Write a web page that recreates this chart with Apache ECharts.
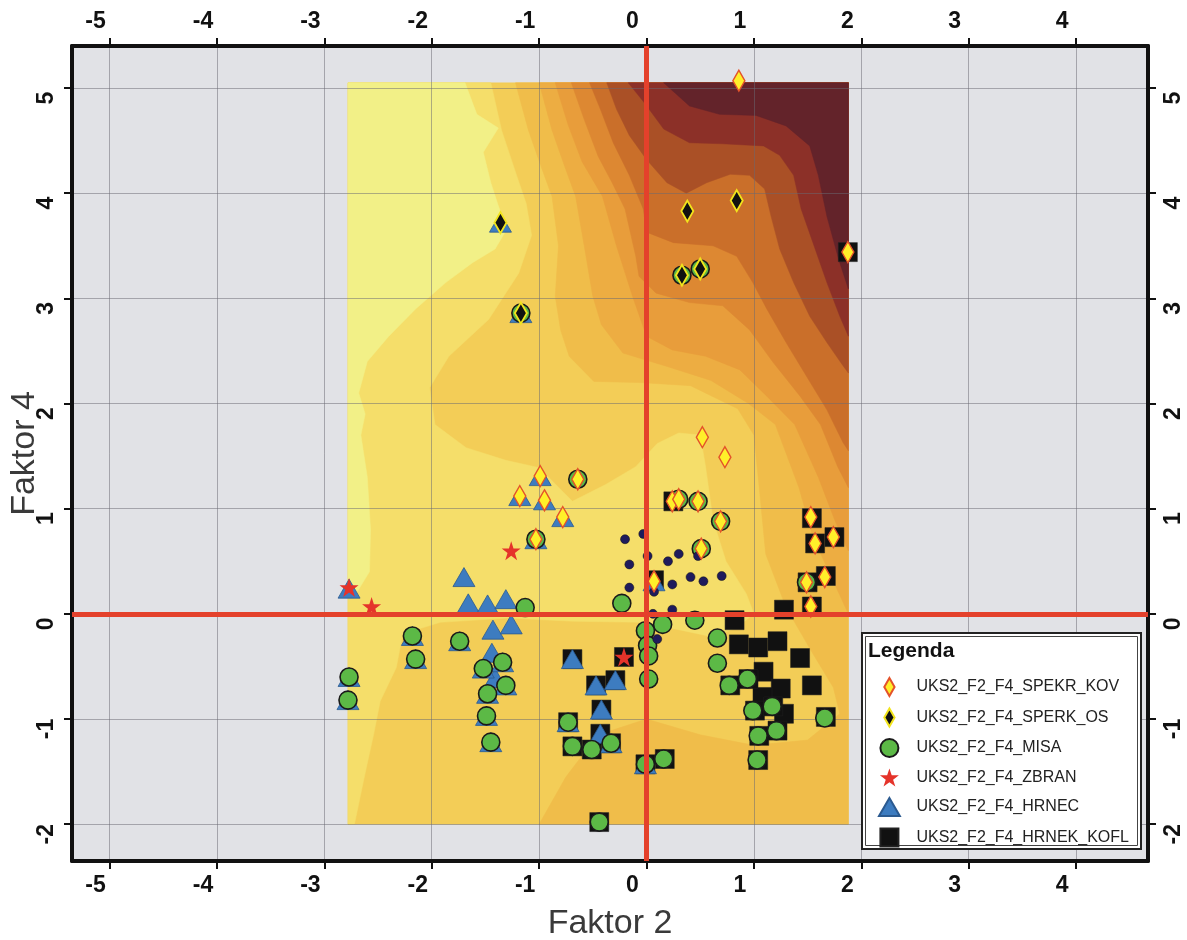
<!DOCTYPE html>
<html><head><meta charset="utf-8">
<script src="https://cdn.jsdelivr.net/npm/echarts@6/dist/echarts.min.js"></script>
<style>html,body{margin:0;padding:0;background:#fff;}#c{width:1187px;height:940px;}</style>
</head><body><div id="c"></div>
<script>
// ---- axis ticks ----
const xTickValues = [-5,-4,-3,-2,-1,0,1,2,3,4];
const yTickValues = [-2,-1,0,1,2,3,4,5];
const xRange = [-5.35, 4.67];
const yRange = [-2.35, 5.4];
const refLines = {x: 0, y: 0};

// ---- sample points (Faktor 2, Faktor 4) ----
const spekrKov = [[0.86,5.07],[1.875,3.44],[0.52,1.68],[0.73,1.49],[-0.99,1.31],[-1.18,1.12],[-0.95,1.08],[-0.78,0.92],[-0.64,1.28],[-1.03,0.71],[0.24,1.07],[0.30,1.09],[0.48,1.07],[0.69,0.88],[0.51,0.62],[0.07,0.31],[1.53,0.92],[1.57,0.67],[1.74,0.73],[1.66,0.35],[1.49,0.30],[1.53,0.07]];
const sperkOs = [[-1.36,3.72],[-1.17,2.86],[0.38,3.83],[0.84,3.93],[0.33,3.22],[0.50,3.28]];
const misa = [[-1.13,0.06],[-0.23,0.10],[-0.01,-0.16],[0.15,-0.10],[0.45,-0.06],[0.66,-0.23],[0.66,-0.47],[0.01,-0.30],[0.02,-0.40],[0.02,-0.62],[-2.18,-0.21],[-2.15,-0.43],[-1.74,-0.26],[-2.77,-0.60],[-2.78,-0.82],[-1.52,-0.52],[-1.34,-0.46],[-1.31,-0.68],[-1.48,-0.76],[-1.49,-0.97],[-1.45,-1.22],[-0.73,-1.03],[-0.69,-1.26],[-0.51,-1.29],[-0.33,-1.23],[-0.01,-1.43],[0.16,-1.38],[-0.44,-1.98],[0.77,-0.68],[0.94,-0.62],[0.99,-0.92],[1.17,-0.88],[1.04,-1.16],[1.21,-1.11],[1.03,-1.39],[1.66,-0.99],[-0.64,1.28],[-1.03,0.71],[0.30,1.09],[0.48,1.07],[0.69,0.88],[0.51,0.62],[1.49,0.30],[-1.17,2.86],[0.33,3.22],[0.50,3.28]];
const zbran = [[-1.26,0.60],[-2.77,0.25],[-2.56,0.07],[-0.21,-0.41]];
const hrnec = [[-1.70,0.35],[-1.66,0.10],[-1.48,0.09],[-1.31,0.14],[-1.43,-0.15],[-1.26,-0.10],[-1.44,-0.37],[-1.41,-0.61],[-2.77,0.24],[-2.18,-0.21],[-2.15,-0.43],[-1.74,-0.26],[-2.77,-0.60],[-2.78,-0.82],[-1.52,-0.52],[-1.34,-0.46],[-1.31,-0.68],[-1.48,-0.76],[-1.49,-0.97],[-1.45,-1.22],[-0.69,-0.43],[-0.47,-0.68],[-0.29,-0.63],[-0.42,-0.91],[-0.43,-1.14],[-0.73,-1.03],[-0.33,-1.23],[-0.01,-1.43],[-0.99,1.31],[-1.18,1.12],[-0.95,1.08],[-0.78,0.92],[-1.03,0.71],[-1.36,3.72],[-1.17,2.86],[0.07,0.31]];
const hrnekKofl = [[0.25,1.07],[0.07,0.32],[1.54,0.91],[1.57,0.67],[1.75,0.73],[1.67,0.36],[1.50,0.30],[1.54,0.07],[1.875,3.44],[0.82,-0.06],[1.28,0.04],[0.86,-0.29],[1.04,-0.32],[1.22,-0.26],[1.43,-0.42],[1.09,-0.55],[1.54,-0.68],[1.25,-0.71],[1.28,-0.95],[1.08,-0.79],[0.78,-0.68],[0.95,-0.62],[1.01,-0.92],[1.18,-0.88],[1.05,-1.16],[1.22,-1.11],[1.04,-1.39],[1.67,-0.98],[-0.69,-0.43],[-0.47,-0.68],[-0.29,-0.63],[-0.42,-0.91],[-0.43,-1.14],[-0.73,-1.03],[-0.69,-1.26],[-0.51,-1.29],[-0.33,-1.23],[-0.21,-0.41],[-0.01,-1.43],[0.17,-1.38],[-0.44,-1.98]];
const otherSamples = [[-0.20,0.71],[-0.03,0.76],[0.01,0.55],[-0.16,0.47],[0.20,0.50],[0.30,0.57],[0.48,0.55],[-0.16,0.25],[0.07,0.21],[0.24,0.28],[0.41,0.35],[0.53,0.31],[0.70,0.36],[0.24,0.04],[0.06,0.00],[0.10,-0.24]];

// ---- interpolated surface (filled contour bands), lightest to darkest ----
const surfaceExtent = [[-2.78,-2.0],[1.88,-2.0],[1.88,5.05],[-2.78,5.05]];
const bandLight = [[-2.78,5.05],[-1.45,5.05],[-1.35,4.6],[-1.22,4.2],[-1.12,3.9],[-1.07,3.6],[-1.19,3.24],[-1.47,2.80],[-1.84,2.45],[-2.02,2.15],[-1.97,1.8],[-1.68,1.58],[-1.31,1.46],[-1.0,1.39],[-0.69,1.07],[-0.38,1.23],[-0.1,1.4],[0.1,1.62],[0.3,1.72],[0.5,1.7],[0.55,1.4],[0.62,0.89],[0.74,0.50],[0.93,0.19],[1.0,0.0],[0.84,-0.13],[0.62,-0.22],[0.3,-0.15],[-0.06,-0.08],[-0.68,-0.07],[-1.30,-0.04],[-1.92,-0.08],[-2.27,-0.19],[-2.33,-0.51],[-2.48,-0.83],[-2.54,-1.14],[-2.63,-1.56],[-2.72,-2.0],[-2.78,-2.0]];
const bandPale = [[-2.78,5.05],[-1.69,5.05],[-1.58,4.75],[-1.38,4.62],[-1.52,4.39],[-1.45,4.1],[-1.38,3.88],[-1.30,3.66],[-1.41,3.47],[-1.62,3.34],[-1.87,3.15],[-2.15,2.9],[-2.4,2.64],[-2.6,2.4],[-2.68,2.1],[-2.62,1.9],[-2.66,1.7],[-2.6,1.3],[-2.57,0.8],[-2.58,0.4],[-2.7,0.2],[-2.78,0.15]];
const band3 = [[-1.22,5.05],[-1.1,4.6],[-0.98,4.25],[-0.88,3.97],[-0.82,3.5],[-0.85,3.02],[-0.80,2.7],[-0.72,2.45],[-0.49,2.21],[-0.07,2.20],[0.41,2.17],[0.85,1.95],[1.0,1.7],[1.05,1.2],[1.11,0.57],[1.30,0.06],[1.55,-0.38],[1.74,-0.70],[1.80,-0.95],[1.5,-1.2],[1.0,-1.25],[0.5,-1.15],[0,-1.0],[-0.45,-1.15],[-0.75,-1.55],[-1.0,-2.0],[1.88,-2.0],[1.88,5.05]];
const band4 = [[-1.0,5.05],[-0.88,4.6],[-0.76,4.25],[-0.66,3.97],[-0.58,3.5],[-0.5,3.02],[-0.42,2.75],[-0.22,2.48],[0.2,2.35],[0.6,2.22],[0.95,2.0],[1.2,1.8],[1.42,1.2],[1.55,0.73],[1.74,0.31],[1.88,0.0],[1.88,5.05]];
const band5 = [[-0.85,5.05],[-0.73,4.65],[-0.6,4.3],[-0.41,3.97],[-0.28,3.5],[-0.13,3.02],[0,2.64],[0.24,2.51],[0.55,2.45],[0.87,2.32],[1.12,2.07],[1.38,1.8],[1.6,1.3],[1.75,0.9],[1.88,0.6],[1.88,5.05]];
const band6 = [[-0.70,5.05],[-0.58,4.7],[-0.45,4.35],[-0.32,4.1],[-0.2,3.85],[-0.1,3.4],[-0.07,3.21],[0.09,3.05],[0.40,2.96],[0.71,2.93],[0.96,2.70],[1.18,2.39],[1.43,2.07],[1.62,1.8],[1.78,1.4],[1.88,1.2],[1.88,5.05]];
const band7 = [[-0.53,5.05],[-0.43,4.8],[-0.31,4.48],[-0.16,4.17],[-0.03,3.85],[0,3.63],[0.25,3.53],[0.62,3.50],[0.84,3.40],[0.99,3.15],[1.12,2.9],[1.30,2.58],[1.49,2.26],[1.68,1.94],[1.83,1.63],[1.88,1.55],[1.88,5.05]];
const band8 = [[-0.37,5.05],[-0.28,4.8],[-0.16,4.55],[0,4.32],[0.19,4.10],[0.37,4.0],[0.56,4.1],[0.78,4.18],[0.96,4.17],[1.10,4.04],[1.16,3.78],[1.24,3.47],[1.37,3.15],[1.52,2.83],[1.68,2.58],[1.83,2.36],[1.88,2.29],[1.88,5.05]];
const band9 = [[-0.17,5.05],[-0.02,4.86],[0.16,4.61],[0.40,4.48],[0.71,4.47],[1.09,4.45],[1.24,4.36],[1.37,4.17],[1.44,3.85],[1.55,3.53],[1.68,3.15],[1.80,2.83],[1.88,2.64],[1.88,5.05]];
const band10 = [[0.16,5.05],[0.40,4.83],[0.68,4.75],[1.02,4.74],[1.30,4.64],[1.52,4.45],[1.60,4.17],[1.68,3.78],[1.79,3.37],[1.88,3.09],[1.88,5.05]];
const bandPolygons = [surfaceExtent, bandLight, bandPale, band3, band4, band5, band6, band7, band8, band9, band10];
const bandColors = ['#F3CD57','#F5DE6A','#F2F087','#F0BD4A','#EDAD42','#E89D3B','#DD8832','#CA6F2A','#AA5026','#8C3028','#63232A'];

const FONT = '"Liberation Sans", Arial, Helvetica, sans-serif';
const chart = echarts.init(document.getElementById('c'), null, {renderer: 'canvas'});

const xAxisCommon = {
  type: 'value', min: xRange[0], max: xRange[1], splitNumber: 10, z: 2.5,
  axisLine: {show: true, onZero: false, lineStyle: {color: '#111', width: 4}},
  axisTick: {show: true, inside: false, length: 8, lineStyle: {color: '#111', width: 2}, customValues: xTickValues},
  axisLabel: {customValues: xTickValues, fontSize: 23, fontWeight: 'bold', color: '#111', fontFamily: FONT, margin: 13, padding: [0, 28, 0, 0]},
  splitLine: {show: true, lineStyle: {color: 'rgba(105,105,115,0.3)', width: 1}}
};
const yAxisCommon = {
  type: 'value', min: yRange[0], max: yRange[1], splitNumber: 8, z: 2.5,
  axisLine: {show: true, onZero: false, lineStyle: {color: '#111', width: 4}},
  axisTick: {show: true, inside: false, length: 8, lineStyle: {color: '#111', width: 2}, customValues: yTickValues},
  axisLabel: {customValues: yTickValues, rotate: 90, fontSize: 23, fontWeight: 'bold', color: '#111', fontFamily: FONT, margin: 14, padding: [0, 20, 0, 0]},
  splitLine: {show: true, lineStyle: {color: 'rgba(105,105,115,0.3)', width: 1}}
};

const option = {
  animation: false,
  backgroundColor: '#ffffff',
  grid: {left: 72, top: 46, width: 1076, height: 815, show: true, backgroundColor: '#E1E2E6', borderWidth: 0,
    containLabel: false, outerBoundsMode: 'none'},
  xAxis: [
    Object.assign({}, xAxisCommon, {position: 'bottom', name: 'Faktor 2', nameLocation: 'middle', nameGap: 46,
      nameMoveOverlap: false, nameTextStyle: {fontSize: 34, color: '#3a3a3a', fontFamily: FONT}}),
    Object.assign({}, xAxisCommon, {position: 'top'})
  ],
  yAxis: [
    Object.assign({}, yAxisCommon, {position: 'left', name: 'Faktor 4', nameLocation: 'middle', nameGap: 30,
      nameMoveOverlap: false, nameTextStyle: {fontSize: 34, color: '#3a3a3a', fontFamily: FONT}}),
    Object.assign({}, yAxisCommon, {position: 'right'})
  ],
  legend: {
    orient: 'vertical', left: 878, top: 677, itemWidth: 44, itemHeight: 18, itemGap: 10.5,
    selectedMode: false, z: 60, padding: 0,
    textStyle: {fontSize: 16, color: '#222', fontFamily: FONT},
    data: [
      {name: 'UKS2_F2_F4_SPEKR_KOV', icon: 'path://M6,0L12,10.5L6,21L0,10.5Z'},
      {name: 'UKS2_F2_F4_SPERK_OS', icon: 'path://M6,0L12,10.5L6,21L0,10.5Z'},
      {name: 'UKS2_F2_F4_MISA', icon: 'circle'},
      {name: 'UKS2_F2_F4_ZBRAN', icon: 'path://M50,0L61.8,35.5L99,35.5L69,57.5L80.5,93L50,71L19.5,93L31,57.5L1,35.5L38.2,35.5Z'},
      {name: 'UKS2_F2_F4_HRNEC', icon: 'path://M11,0L22,19L0,19Z'},
      {name: 'UKS2_F2_F4_HRNEK_KOFL', icon: 'path://M0,0L20,0L20,20L0,20Z'}
    ]
  },
  graphic: [
    {type: 'rect', z: 50, shape: {x: 862, y: 633, width: 279, height: 216}, style: {fill: '#ffffff', stroke: '#222', lineWidth: 2}},
    {type: 'rect', z: 51, shape: {x: 865.5, y: 636.5, width: 272, height: 209}, style: {fill: 'none', stroke: '#444', lineWidth: 1}},
    {type: 'text', z: 52, x: 868, y: 641, style: {text: 'Legenda', font: 'bold 21px ' + FONT, fill: '#111'}}
  ],
  series: [
    {
      type: 'custom', name: 'surface', z: 1, silent: true,
      data: bandPolygons.map((p, i) => [p[0][0], p[0][1], i]),
      encode: {x: 0, y: 1},
      renderItem: function (params, api) {
        const idx = params.dataIndex;
        const pts = bandPolygons[idx].map(p => api.coord(p));
        return {type: 'polygon', shape: {points: pts}, style: {fill: bandColors[idx], stroke: bandColors[idx], lineWidth: 0.5}};
      }
    },
    {name: 'UKS2_F2_F4_HRNEK_KOFL', type: 'scatter', z: 3, data: hrnekKofl, symbol: 'rect', symbolSize: 19,
      itemStyle: {color: '#111111', borderColor: '#222', borderWidth: 0.5, opacity: 1}},
    {name: 'UKS2_F2_F4_HRNEC', type: 'scatter', z: 3, data: hrnec, symbol: 'triangle', symbolSize: [22, 19],
      itemStyle: {color: '#3D7CC0', borderColor: '#2B5A90', borderWidth: 0.8, opacity: 1}},
    {name: 'UKS2_F2_F4_MISA', type: 'scatter', z: 3, data: misa, symbol: 'circle', symbolSize: 18,
      itemStyle: {color: '#5CB946', borderColor: '#1a1a1a', borderWidth: 1.6, opacity: 1}},
    {name: 'other', type: 'scatter', z: 3, data: otherSamples, symbol: 'circle', symbolSize: 9,
      itemStyle: {color: '#1F1B5C', borderColor: '#111', borderWidth: 0.5, opacity: 1}},
    {name: 'UKS2_F2_F4_ZBRAN', type: 'scatter', z: 3, data: zbran,
      symbol: 'path://M50,0L61.8,35.5L99,35.5L69,57.5L80.5,93L50,71L19.5,93L31,57.5L1,35.5L38.2,35.5Z', symbolSize: 19,
      itemStyle: {color: '#E5332A', opacity: 1}},
    {name: 'UKS2_F2_F4_SPERK_OS', type: 'scatter', z: 3, data: sperkOs, symbol: 'diamond', symbolSize: [12, 21],
      itemStyle: {color: '#111111', borderColor: '#F2E41C', borderWidth: 2, opacity: 1}},
    {name: 'UKS2_F2_F4_SPEKR_KOV', type: 'scatter', z: 3, data: spekrKov, symbol: 'diamond', symbolSize: [12, 21],
      itemStyle: {color: '#FFEF2A', borderColor: '#E4522A', borderWidth: 1.5, opacity: 1}},
    {
      type: 'scatter', name: 'origin', z: 10, data: [], silent: true,
      markLine: {silent: true, symbol: ['none', 'none'], animation: false, label: {show: false},
        lineStyle: {color: '#E4412B', width: 5, type: 'solid', opacity: 1},
        emphasis: {disabled: true},
        data: [{xAxis: refLines.x}, {yAxis: refLines.y}]}
    }
  ]
};
chart.setOption(option);
</script>
</body></html>
